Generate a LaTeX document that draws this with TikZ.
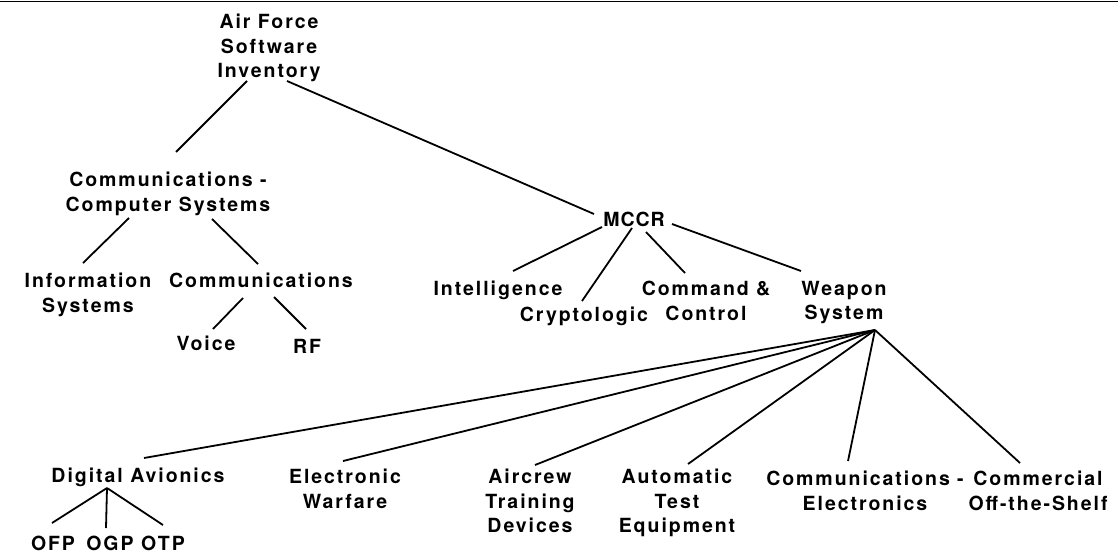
\documentclass[tikz,border=0pt]{standalone}
\usepackage{fontspec}
\newfontfamily\lblfont{TeX Gyre Heros}[LetterSpace=10]
\begin{document}
\begin{tikzpicture}[x=1pt,y=-1pt,
  lbl/.style={font=\lblfont\bfseries\fontsize{19.5}{24.5}\selectfont, align=center, inner sep=0pt, anchor=north},
  conn/.style={line width=1.8pt, black},
  rule/.style={line width=1.6pt, black}]
\useasboundingbox (0,0) rectangle (1118,554);
\draw[rule] (0,1.6) -- (1118,1.6);

\node[lbl] (af) at (269,14) {Air Force\\Software\\Inventory};
\node[lbl] (ccs) at (168,172) {Communications -\\Computer Systems};
\node[lbl] (info) at (88,273) {Information\\Systems};
\node[lbl] (comm) at (261,273) {Communications};
\node[lbl] (voice) at (206,336) {Voice};
\node[lbl] (rf) at (307,339) {RF};
\node[lbl] (mccr) at (634,212) {M\kern1pt C\kern1pt C\kern1pt R};
\node[lbl] (intel) at (498,281) {Intelligence};
\node[lbl] (crypto) at (584,307) {Cryptologic};
\node[lbl] (ctwo) at (706,281) {Command \&\\Control};
\node[lbl] (ws) at (844,281) {Weapon\\System};
\node[lbl] (da) at (138,468) {Digital Avionics};
\node[lbl] (ofp) at (53,536) {OFP};
\node[lbl] (ogp) at (110,536) {OGP};
\node[lbl] (otp) at (163,536) {OTP};
\node[lbl] (ew) at (345,469) {Electronic\\Warfare};
\node[lbl] (atd) at (530,469) {Aircrew\\Training\\Devices};
\node[lbl] (ate) at (677,469) {Automatic\\Test\\Equipment};
\node[lbl] (ce) at (865,471) {Communications -\\Electronics};
\node[lbl] (cots) at (1038,471) {Commercial\\Off-the-Shelf};

\coordinate (wsapex) at ([shift={(31,49)}]ws.north);
\coordinate (daapex) at ([shift={(-31,20)}]da.north);

\draw[conn] ([shift={(-22,67)}]af.north) -- ([shift={(8,-20)}]ccs.north);
\draw[conn] ([shift={(18,67)}]af.north) -- ([shift={(-40,2)}]mccr.north);
\draw[conn] ([shift={(-39,46)}]ccs.north) -- ([shift={(-5,-10)}]info.north);
\draw[conn] ([shift={(44,47)}]ccs.north) -- ([shift={(-3,-9)}]comm.north);
\draw[conn] ([shift={(-18,25)}]comm.north) -- ([shift={(7,-7)}]voice.north);
\draw[conn] ([shift={(13,24)}]comm.north) -- ([shift={(-1,-10)}]rf.north);

\draw[conn] ([shift={(-32,15)}]mccr.north) -- ([shift={(15,-10)}]intel.north);
\draw[conn] ([shift={(-2,16)}]mccr.north) -- ([shift={(-2,-6)}]crypto.north);
\draw[conn] ([shift={(12,20)}]mccr.north) -- ([shift={(-21,-8)}]ctwo.north);
\draw[conn] ([shift={(38,12)}]mccr.north) -- ([shift={(-43,-10)}]ws.north);

\draw[conn] (wsapex) -- ([shift={(6,-10)}]da.north);
\draw[conn] (wsapex) -- ([shift={(-2,-8)}]ew.north);
\draw[conn] (wsapex) -- ([shift={(5,-4)}]atd.north);
\draw[conn] (wsapex) -- ([shift={(11,-5)}]ate.north);
\draw[conn] (wsapex) -- ([shift={(-17,-10)}]ce.north);
\draw[conn] (wsapex) -- ([shift={(-18,-8)}]cots.north);

\draw[conn] (daapex) -- ([shift={(-1,-13)}]ofp.north);
\draw[conn] (daapex) -- ([shift={(-4,-8)}]ogp.north);
\draw[conn] (daapex) -- ([shift={(0,-11)}]otp.north);
\end{tikzpicture}
\end{document}
